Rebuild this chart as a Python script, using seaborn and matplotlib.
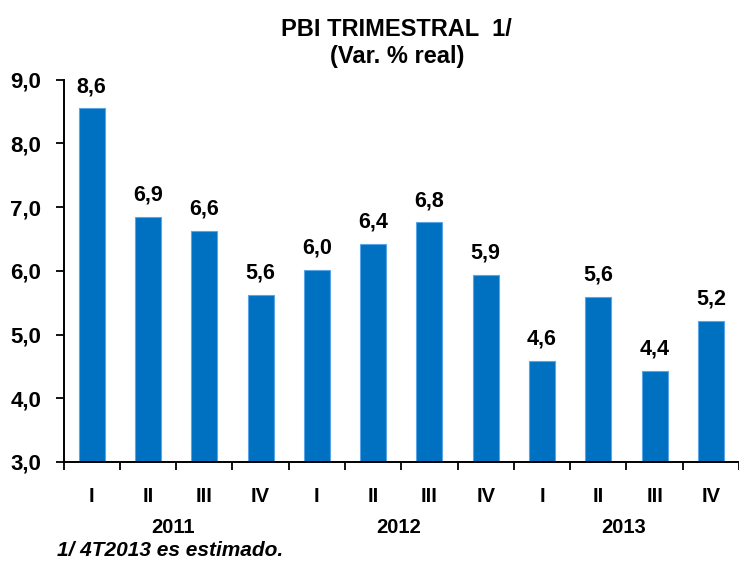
import numpy as np
import pandas as pd
import seaborn as sns
import matplotlib.pyplot as plt

# datos
years = ['2011', '2012', '2013']
quarters = ['I', 'II', 'III', 'IV']
values = [8.55, 6.85, 6.63, 5.62, 6.02, 6.42, 6.76, 5.93, 4.59, 5.59, 4.43, 5.22]
labels = ['8,6', '6,9', '6,6', '5,6', '6,0', '6,4', '6,8', '5,9', '4,6', '5,6', '4,4', '5,2']
yticks = [3.0, 4.0, 5.0, 6.0, 7.0, 8.0, 9.0]

periods = [y + ' ' + q for y in years for q in quarters]
df = pd.DataFrame({'periodo': periods, 'var': values})

sns.set_theme(style='white')
plt.rcParams['font.family'] = ['Liberation Sans', 'DejaVu Sans']
plt.rcParams['font.weight'] = 'bold'
plt.rcParams['text.color'] = 'black'
plt.rcParams['xtick.color'] = 'black'
plt.rcParams['ytick.color'] = 'black'

fig = plt.figure(figsize=(7.39, 5.62), dpi=100)
ax = fig.add_axes([0.086, 0.178, 0.914, 0.68])

sns.barplot(data=df, x='periodo', y='var', order=periods, color='#0070C0',
            saturation=1, width=0.46, edgecolor='#5AA5E6', linewidth=0.8, ax=ax)

for i, (v, t) in enumerate(zip(values, labels)):
    ax.text(i, v + 0.18, t, ha='center', va='bottom', fontsize=15.5, fontweight='bold')

ax.set_ylim(3, 9)
ax.set_xlim(-0.5, 11.41)
ax.set_yticks(yticks)
ax.set_yticklabels([f'{t:.1f}'.replace('.', ',') for t in yticks], fontsize=16, fontweight='bold')
ax.set_xticks(range(len(periods)))
ax.set_xticklabels(quarters * len(years), fontsize=14.5, fontweight='bold')
ax.set_xticks(np.arange(-0.5, len(periods), 1), minor=True)
ax.tick_params(axis='x', which='major', length=0, pad=18, bottom=True)
ax.tick_params(axis='x', which='minor', length=6, width=1.3, direction='out', bottom=True)
ax.tick_params(axis='y', length=6, width=1.3, direction='out', pad=10, left=True)
ax.set_xlabel('')
ax.set_ylabel('')

for s in ['top', 'right']:
    ax.spines[s].set_visible(False)
for s in ['left', 'bottom']:
    ax.spines[s].set_color('black')
    ax.spines[s].set_linewidth(1.4)

for k, y in enumerate(years):
    ax.text(k * 4 + 1.45, -0.172, y, transform=ax.get_xaxis_transform(), ha='center', va='center',
            fontsize=14.5, fontweight='bold')

fig.text(0.537, 0.947, 'PBI TRIMESTRAL  1/', ha='center', va='center', fontsize=17, fontweight='bold')
fig.text(0.537, 0.9, '(Var. % real)', ha='center', va='center', fontsize=17, fontweight='bold')
fig.text(0.077, 0.004, '1/ 4T2013 es estimado.', ha='left', va='bottom', fontsize=15,
         fontweight='bold', style='italic')

fig.savefig('out.png', dpi=100)
